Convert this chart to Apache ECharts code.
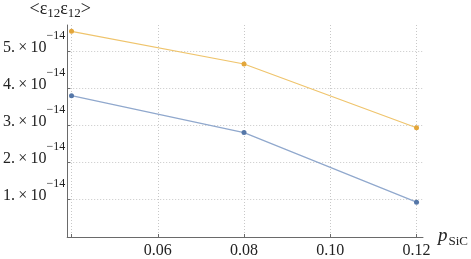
<!DOCTYPE html>
<html>
<head>
<meta charset="utf-8">
<script src="https://cdn.jsdelivr.net/npm/echarts@6/dist/echarts.min.js"></script>
<style>
html,body{margin:0;padding:0;background:#fff;}
#c{width:471px;height:259px;}
</style>
</head>
<body>
<div id="c"></div>
<script>
// Data
var pSiC = [0.04, 0.08, 0.12];
var seriesOrange = [5.53e-14, 4.645e-14, 2.92e-14];
var seriesBlue = [3.79e-14, 2.79e-14, 0.91e-14];
var xTickValues = [0.04, 0.06, 0.08, 0.10, 0.12];
var xLabelValues = [0.06, 0.08, 0.10, 0.12];
var yTickValues = [1e-14, 2e-14, 3e-14, 4e-14, 5e-14];

var FONT = '"Liberation Serif", "DejaVu Serif", serif';

function pairs(xs, ys) {
  return xs.map(function (x, i) { return [x, ys[i]]; });
}

var chart = echarts.init(document.getElementById('c'), null, {renderer: 'canvas'});
chart.setOption({
  animation: false,
  backgroundColor: '#ffffff',
  grid: {left: 64, right: 43, top: 22, bottom: 21, containLabel: false},
  xAxis: {
    type: 'value',
    min: 0.039,
    max: 0.1215,
    name: '{p|p}{s|SiC}',
    nameLocation: 'end',
    nameGap: 15,
    nameTextStyle: {
      rich: {
        p: {fontFamily: FONT, fontSize: 19, fontStyle: 'italic', color: '#222', lineHeight: 22, verticalAlign: 'top'},
        s: {fontFamily: FONT, fontSize: 13, color: '#222', lineHeight: 22, verticalAlign: 'bottom', padding: [0, 0, 0, 1]}
      },
      padding: [0, 0, 0, 0]
    },
    axisLine: {show: true, onZero: false, lineStyle: {color: '#6a6a6a', width: 1}},
    axisTick: {show: true, inside: true, length: 3, customValues: xTickValues, lineStyle: {color: '#6a6a6a'}},
    axisLabel: {
      show: true,
      customValues: xLabelValues,
      margin: 6,
      fontFamily: FONT,
      fontSize: 16,
      color: '#222',
      formatter: function (v) { return v.toFixed(2); }
    },
    splitLine: {show: true, lineStyle: {color: '#c8c8c8', type: [1, 2], width: 1}}
  },
  yAxis: {
    type: 'value',
    min: -0.033e-14,
    max: 5.70e-14,
    name: '{a|<ε}{b|12}{a|ε}{b|12}{a|>}',
    nameLocation: 'end',
    nameGap: 5,
    nameTextStyle: {
      align: 'center',
      padding: [0, 14, 0, 0],
      rich: {
        a: {fontFamily: FONT, fontSize: 18, color: '#222', lineHeight: 20, verticalAlign: 'top'},
        b: {fontFamily: FONT, fontSize: 13, color: '#222', lineHeight: 20, verticalAlign: 'bottom'}
      }
    },
    axisLine: {show: true, onZero: false, lineStyle: {color: '#6a6a6a', width: 1}},
    axisTick: {show: true, inside: true, length: 3, customValues: yTickValues, lineStyle: {color: '#6a6a6a'}},
    axisLabel: {
      show: true,
      customValues: yTickValues,
      margin: 2,
      padding: [0, 0, 6, 0],
      formatter: function (v) {
        var m = Math.round(v / 1e-14);
        return '{m|' + m + '.\u2009×\u200910}{e|\u221214}';
      },
      rich: {
        m: {fontFamily: FONT, fontSize: 16, color: '#222', lineHeight: 16, verticalAlign: 'bottom'},
        e: {fontFamily: FONT, fontSize: 12, color: '#222', lineHeight: 12, padding: [0, 0, 14, 0], verticalAlign: 'bottom'}
      }
    },
    splitLine: {show: true, lineStyle: {color: '#c8c8c8', type: [1, 2], width: 1}}
  },
  series: [
    {
      type: 'line',
      data: pairs(pSiC, seriesOrange),
      symbol: 'circle',
      symbolSize: 5,
      lineStyle: {color: '#EFC46C', width: 1.2},
      itemStyle: {color: '#E3A63A'},
      z: 3
    },
    {
      type: 'line',
      data: pairs(pSiC, seriesBlue),
      symbol: 'circle',
      symbolSize: 5,
      lineStyle: {color: '#90A8CD', width: 1.2},
      itemStyle: {color: '#5577A8'},
      z: 3
    }
  ]
});
</script>
</body>
</html>
